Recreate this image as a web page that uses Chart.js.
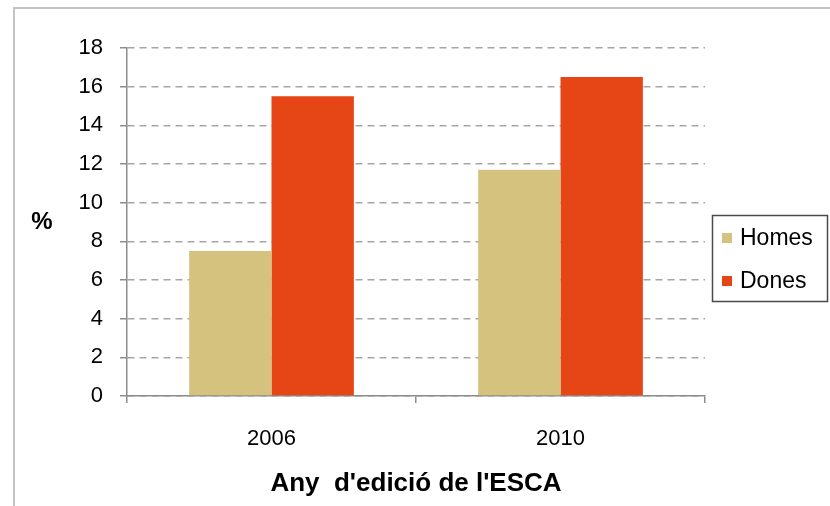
<!DOCTYPE html>
<html>
<head>
<meta charset="utf-8">
<script src="https://cdn.jsdelivr.net/npm/chart.js@4.4.0/dist/chart.umd.min.js"></script>
<style>
body { margin: 0; background: #fff; }
</style>
</head>
<body>
<canvas id="grafic" width="830" height="506"></canvas>
<script>
let anys = ['2006', '2010']
let homes = [7.5, 11.7]
let dones = [15.5, 16.5]
let nomsSeries = ['Homes', 'Dones']
let colors = ['#D6C27F', '#E64516']
let ticsY = [0, 2, 4, 6, 8, 10, 12, 14, 16, 18]
let titolX = "Any  d'edició de l'ESCA"
let titolY = '%'

const lletra = '"Liberation Sans", Arial, sans-serif'

// marc exterior, el % i la llegenda
const extres = {
    id: 'extres',
    beforeDraw(chart) {
        const ctx = chart.ctx
        ctx.save()
        ctx.strokeStyle = '#c4c4c4'
        ctx.lineWidth = 2
        ctx.strokeRect(14, 8, 830, 520)
        ctx.restore()
    },
    afterDraw(chart) {
        const ctx = chart.ctx
        ctx.save()
        ctx.fillStyle = '#000'
        ctx.font = 'bold 24px ' + lletra
        ctx.textAlign = 'center'
        ctx.textBaseline = 'middle'
        ctx.fillText(titolY, 42, 222)

        ctx.strokeStyle = '#4a4a4a'
        ctx.lineWidth = 1.5
        ctx.strokeRect(712.5, 215.5, 115, 86)
        chart.data.datasets.forEach(function (ds, i) {
            let y = 238 + i * 43
            ctx.fillStyle = ds.backgroundColor
            ctx.fillRect(722, y - 5, 10, 10)
            ctx.fillStyle = '#000'
            ctx.textAlign = 'left'
            ctx.font = '23px ' + lletra
            ctx.fillText(ds.label, 740, y + 1)
        })
        ctx.restore()
    }
}

const data = {
    labels: anys,
    datasets: [
        { label: nomsSeries[0], data: homes, backgroundColor: colors[0] },
        { label: nomsSeries[1], data: dones, backgroundColor: colors[1] }
    ]
}

const config = {
    type: 'bar',
    data: data,
    options: {
        responsive: false,
        animation: false,
        barPercentage: 1,
        categoryPercentage: 0.57,
        layout: { padding: { top: 48, right: 125, bottom: 0, left: 0 } },
        plugins: {
            legend: { display: false },
            tooltip: { enabled: false }
        },
        scales: {
            x: {
                offset: true,
                grid: { drawOnChartArea: false, tickLength: 7, color: '#8c8c8c', lineWidth: 1.5, tickBorderDash: [] },
                border: { color: '#8c8c8c', width: 1.5 },
                ticks: { font: { family: lletra, size: 22 }, color: '#000', padding: 23 },
                title: { display: true, text: titolX, font: { family: lletra, size: 26, weight: 'bold' }, color: '#000', padding: { top: 0, bottom: 7 } },
                afterFit: function (s) { s.height = 110 }
            },
            y: {
                min: 0,
                max: 18,
                afterBuildTicks: function (s) { s.ticks = ticsY.map(v => ({ value: v })) },
                grid: { color: '#a6a6a6', lineWidth: 1.5, tickLength: 7, tickColor: '#8c8c8c', tickBorderDash: [] },
                border: { color: '#8c8c8c', width: 1.5, dash: [7, 5] },
                ticks: { font: { family: lletra, size: 22 }, color: '#000', padding: 17 },
                afterFit: function (s) { s.width = 127 }
            }
        }
    },
    plugins: [extres]
}

let grafic = new Chart(document.getElementById('grafic'), config)
</script>
</body>
</html>
